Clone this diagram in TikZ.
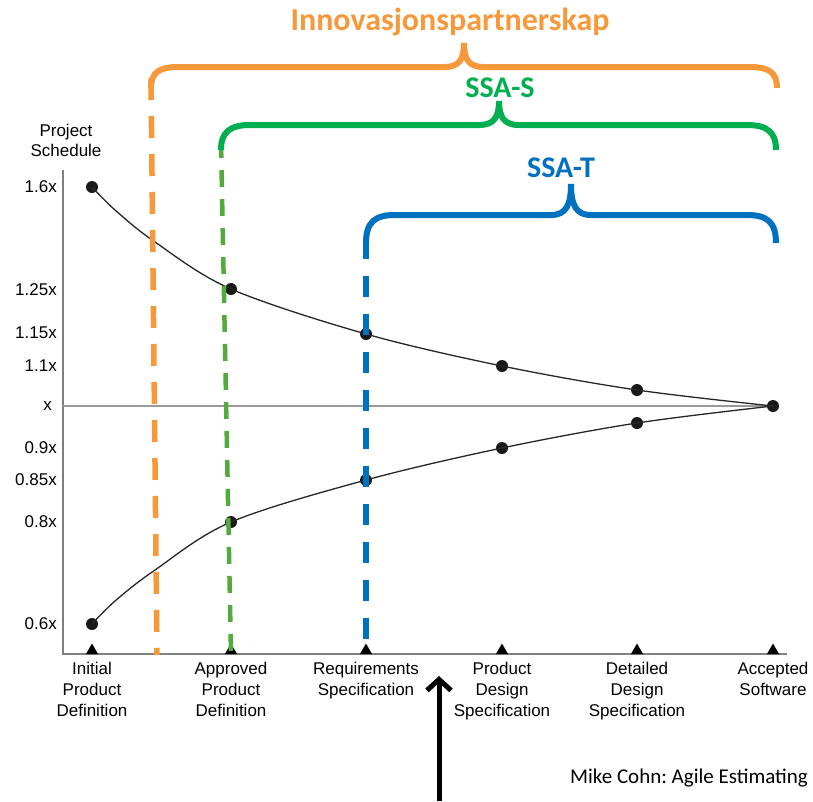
\documentclass[tikz,border=0pt]{standalone}
\usepackage{fontspec}
\newfontfamily\chartfont{Liberation Sans}
\newfontfamily\calfont{Carlito}
\usetikzlibrary{shapes}
\usetikzlibrary{arrows.meta}
\definecolor{orng}{RGB}{247,152,58}
\definecolor{grn}{RGB}{0,176,80}
\definecolor{grnd}{RGB}{84,170,62}
\definecolor{blu}{RGB}{0,112,192}
\definecolor{axisgray}{RGB}{128,128,128}
\tikzset{
    dotn/.style = {circle, fill=black!90, minimum size=12pt, inner sep=0pt},
    tickn/.style = {regular polygon, regular polygon sides=3, fill=black, minimum size=14pt, inner sep=0pt},
    axisn/.style = {draw=axisgray, line width=2pt},
    xline/.style = {draw=axisgray!80, line width=1.2pt},
    curven/.style = {draw=black!85, line width=1.3pt},
    ylab/.style = {anchor=east, inner sep=0pt, font=\chartfont\fontsize{17}{20}\selectfont},
    xlab/.style = {anchor=north, inner sep=0pt, align=center, font=\chartfont\fontsize{17}{21}\selectfont},
    braceo/.style = {draw=orng, line width=6pt}, % outer span
    braceg/.style = {draw=grn, line width=6pt},
    braceb/.style = {draw=blu, line width=6pt},
    dasho/.style = {draw=orng, line width=5.5pt, dash pattern=on 22pt off 16pt},
    dashg/.style = {draw=grnd, line width=4.5pt, dash pattern=on 17pt off 12pt},
    dashb/.style = {draw=blu, line width=6pt, dash pattern=on 21pt off 17pt},
    spanlab/.style = {inner sep=0pt, font=\calfont\bfseries\fontsize{30}{34}\selectfont},
    upline/.style = {line width=5pt, -{Straight Barb[length=11pt,width=24pt]}}
}

\begin{document}
\begin{tikzpicture}[x=1pt,y=-1pt]
\useasboundingbox (0,0) rectangle (813,801);

% axes
\coordinate (ytop) at (63,170);
\coordinate (orig) at (63,654);
\coordinate (xend) at (787,654);
\draw[axisn] (ytop) -- (orig) -- (xend);

% milestones
\node[tickn] at ( 92,650.5) (t1) {};
\node[tickn] at (231,650.5) (t2) {};
\node[tickn] at (366,650.5) (t3) {};
\node[tickn] at (502,650.5) (t4) {};
\node[tickn] at (637,650.5) (t5) {};
\node[tickn] at (773,650.5) (t6) {};

% cone points
\node[dotn] at ( 92,187) (u1) {};
\node[dotn] at (231,289) (u2) {};
\node[dotn] at (366,334) (u3) {};
\node[dotn] at (502,366) (u4) {};
\node[dotn] at (637,390) (u5) {};
\node[dotn] at (773,406) (end) {};
\node[dotn] at ( 92,624) (l1) {};
\node[dotn] at (231,522) (l2) {};
\node[dotn] at (366,480) (l3) {};
\node[dotn] at (502,448) (l4) {};
\node[dotn] at (637,423) (l5) {};

\coordinate (xstart) at (63,406);
\draw[xline] (xstart) -- (end.center);
\draw[curven] plot[smooth, tension=0.55] coordinates {(u1.center) (115,210) (155,242) (u2.center) (u3.center) (u4.center) (u5.center) (end.center)};
\draw[curven] plot[smooth, tension=0.55] coordinates {(l1.center) (115,601) (155,570) (l2.center) (l3.center) (l4.center) (l5.center) (end.center)};

% axis labels
\node[anchor=center, inner sep=0pt, align=center, font=\chartfont\fontsize{17}{20}\selectfont] at (66,140) (ttl) {Project\\Schedule};
\node[ylab] at (57,187) (y16) {1.6x};
\node[ylab] at (57,290) (y125) {1.25x};
\node[ylab] at (57,333) (y115) {1.15x};
\node[ylab] at (57,366) (y11) {1.1x};
\node[ylab] at (52,406) (y1) {x};
\node[ylab] at (57,448) (y09) {0.9x};
\node[ylab] at (57,480) (y085) {0.85x};
\node[ylab] at (57,522) (y08) {0.8x};
\node[ylab] at (57,624) (y06) {0.6x};

\node[xlab] at ( 92,662) (m1) {Initial\\Product\\Definition};
\node[xlab] at (231,662) (m2) {Approved\\Product\\Definition};
\node[xlab] at (366,662) (m3) {Requirements\\Specification};
\node[xlab] at (502,662) (m4) {Product\\Design\\Specification};
\node[xlab] at (637,662) (m5) {Detailed\\Design\\Specification};
\node[xlab] at (773,662) (m6) {Accepted\\Software};

% spans
\coordinate (oL) at (151,88);
\coordinate (oR) at (777,88);
\coordinate (oT) at (464,43);
\coordinate (gL) at (221,150);
\coordinate (gR) at (776,150);
\coordinate (gT) at (499,101);
\coordinate (bL) at (366,243);
\coordinate (bR) at (776,243);
\coordinate (bT) at (571,184);

\coordinate (oB) at (157,655);
\coordinate (gB) at (231,655);
\coordinate (bB) at (366,655);
\draw[dasho] ([yshift=10]oL) -- (oB);
\draw[dashg] ([yshift=9]gL) -- (gB);
\draw[dashb] ([yshift=5]bL) -- (bB);

\draw[braceo] (oL) .. controls (151,72) and (160,67) .. (178,67) -- (444,67)
  .. controls (459,67) and (464,60) .. (oT) .. controls (464,60) and (469,67) .. (484,67)
  -- (750,67) .. controls (768,67) and (777,72) .. (oR);
\draw[braceg] (gL) .. controls (221,132) and (230,125) .. (250,125) -- (479,125)
  .. controls (494,125) and (499,117) .. (gT) .. controls (499,117) and (504,125) .. (519,125)
  -- (747,125) .. controls (767,125) and (776,132) .. (gR);
\draw[braceb] (bL) .. controls (366,222) and (375,215) .. (395,215) -- (551,215)
  .. controls (566,215) and (571,205) .. (bT) .. controls (571,205) and (576,215) .. (591,215)
  -- (747,215) .. controls (767,215) and (776,222) .. (bR);

\node[spanlab, text=orng, font=\calfont\bfseries\fontsize{32}{36}\selectfont] at (450,22) (inno) {Innovasjonspartnerskap};
\node[spanlab, text=grn] at (500,88) (ssas) {SSA-S};
\node[spanlab, text=blu] at (561,168) (ssat) {SSA-T};

% pointer
\coordinate (arrfoot) at (439,801);
\coordinate (arrtip) at (439,676);
\draw[upline] (arrfoot) -- (arrtip);

\node[anchor=east, inner sep=0pt, font=\calfont\fontsize{21}{24}\selectfont\frenchspacing] at (808,778) (src) {Mike Cohn: Agile Estimating};

\end{tikzpicture}
\end{document}
